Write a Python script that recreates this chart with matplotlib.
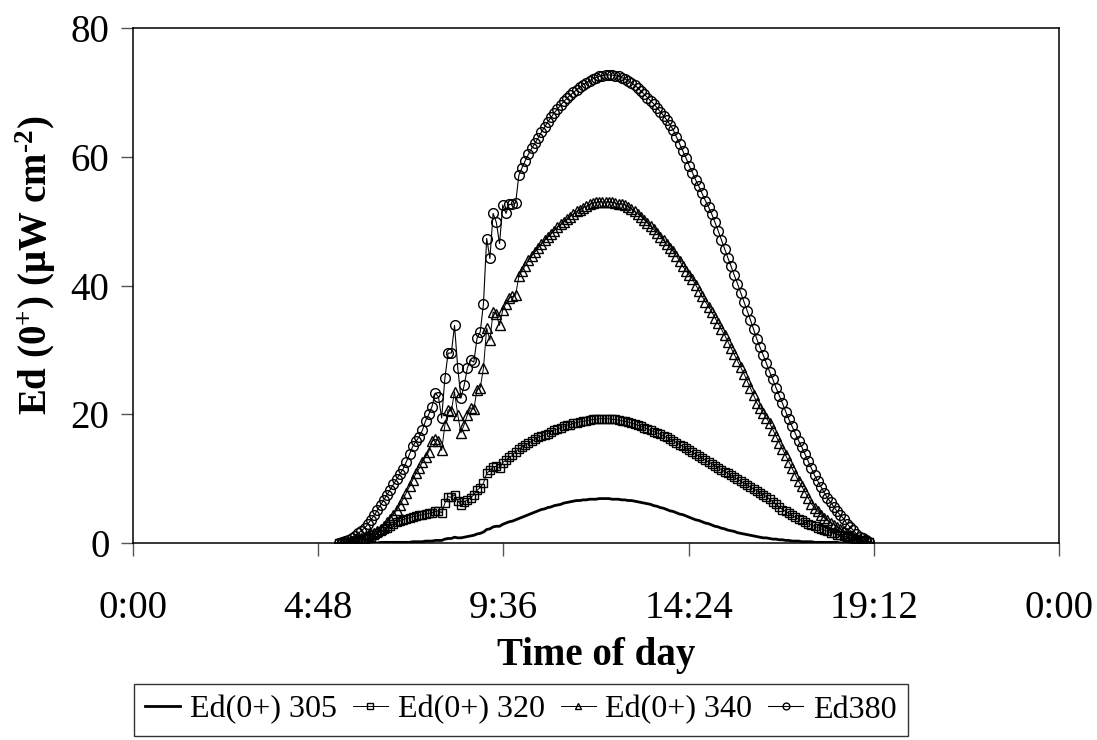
import numpy as np
import matplotlib
matplotlib.use("Agg")
import matplotlib.pyplot as plt

# ---- data (5-minute samples starting at 5:20) ----
start_min = 320
step_min = 5

ed305 = [0.0, 0.0, 0.0, 0.0, 0.0, 0.0, 0.0, 0.0,
         0.0, 0.0, 0.0, 0.0, 0.0, 0.1, 0.1, 0.1, 0.1, 0.1, 0.1, 0.1,
         0.1, 0.1, 0.1, 0.2, 0.2, 0.2, 0.2, 0.3, 0.3, 0.3, 0.4, 0.4,
         0.4, 0.6, 0.7, 0.7, 0.9, 0.8, 0.8, 0.9, 1.0, 1.1, 1.2, 1.4,
         1.5, 1.7, 2.1, 2.2, 2.5, 2.6, 2.6, 2.9, 3.1, 3.3, 3.4, 3.6,
         3.8, 4.0, 4.2, 4.4, 4.6, 4.8, 5.0, 5.2, 5.3, 5.5, 5.6, 5.8,
         5.9, 6.0, 6.2, 6.3, 6.4, 6.5, 6.6, 6.6, 6.7, 6.7, 6.8, 6.8,
         6.8, 6.9, 6.9, 6.9, 6.9, 6.8, 6.8, 6.8, 6.7, 6.7, 6.6, 6.6,
         6.5, 6.4, 6.3, 6.2, 6.1, 6.0, 5.8, 5.7, 5.5, 5.4, 5.2, 5.0,
         4.9, 4.7, 4.5, 4.4, 4.2, 4.0, 3.8, 3.6, 3.5, 3.3, 3.1, 3.0,
         2.8, 2.6, 2.5, 2.3, 2.2, 2.0, 1.9, 1.8, 1.6, 1.5, 1.4, 1.3,
         1.2, 1.1, 1.0, 0.9, 0.8, 0.8, 0.7, 0.6, 0.6, 0.5, 0.5, 0.4,
         0.4, 0.3, 0.3, 0.3, 0.2, 0.2, 0.2, 0.2, 0.1, 0.1, 0.1, 0.1,
         0.1, 0.1, 0.1, 0.1, 0.0, 0.0, 0.0, 0.0, 0.0, 0.0, 0.0, 0.0,
         0.0, 0.0]

ed320 = [0.0, 0.0, 0.1, 0.1, 0.2, 0.3, 0.4, 0.5,
         0.6, 0.8, 1.0, 1.2, 1.5, 1.8, 2.1, 2.4, 2.7, 3.0, 3.2, 3.4,
         3.6, 3.8, 3.9, 4.1, 4.2, 4.3, 4.4, 4.5, 4.6, 4.7, 4.9, 5.0,
         4.7, 6.2, 7.2, 7.1, 7.5, 6.6, 5.9, 6.4, 6.7, 7.0, 7.5, 8.2,
         8.6, 9.3, 10.8, 11.3, 11.8, 11.9, 11.6, 12.5, 12.9, 13.3, 13.6, 14.2,
         14.6, 14.9, 15.2, 15.5, 15.8, 16.1, 16.4, 16.6, 16.8, 17.0, 17.3, 17.5,
         17.7, 17.9, 18.1, 18.3, 18.4, 18.6, 18.7, 18.8, 18.9, 19.0, 19.1, 19.2,
         19.2, 19.3, 19.3, 19.3, 19.3, 19.2, 19.2, 19.1, 19.0, 18.9, 18.8, 18.6,
         18.5, 18.3, 18.1, 17.9, 17.7, 17.5, 17.3, 17.1, 16.9, 16.6, 16.4, 16.1,
         15.9, 15.6, 15.3, 15.0, 14.7, 14.4, 14.1, 13.8, 13.5, 13.2, 12.9, 12.6,
         12.3, 12.0, 11.7, 11.4, 11.1, 10.8, 10.5, 10.2, 9.9, 9.6, 9.3, 9.0,
         8.7, 8.4, 8.1, 7.8, 7.5, 7.2, 6.8, 6.4, 6.0, 5.6, 5.2, 4.9,
         4.6, 4.3, 4.0, 3.7, 3.5, 3.2, 3.0, 2.8, 2.6, 2.4, 2.2, 2.0,
         1.8, 1.6, 1.5, 1.3, 1.2, 1.1, 0.9, 0.8, 0.7, 0.6, 0.5, 0.4,
         0.3, 0.2]

ed340 = [0.0, 0.0, 0.1, 0.2, 0.3, 0.4, 0.6, 0.8,
         1.0, 1.2, 1.4, 1.6, 1.9, 2.2, 2.7, 3.2, 3.8, 4.4, 5.1, 5.9,
         6.8, 7.8, 8.8, 9.8, 10.8, 11.6, 12.6, 13.4, 14.2, 15.8, 16.1, 15.9,
         14.4, 18.3, 20.7, 20.5, 23.5, 19.9, 17.1, 18.4, 19.9, 21.0, 20.8, 23.8,
         24.1, 27.2, 33.4, 31.5, 35.9, 35.5, 33.8, 36.2, 37.2, 38.0, 38.3, 38.5,
         41.4, 42.3, 43.1, 43.9, 44.6, 45.2, 45.8, 46.4, 47.0, 47.5, 48.0, 48.5,
         49.1, 49.5, 49.9, 50.3, 50.7, 51.1, 51.5, 51.8, 52.1, 52.3, 52.6, 52.8,
         52.9, 53.0, 53.0, 53.0, 53.0, 52.9, 52.8, 52.7, 52.7, 52.5, 52.2, 51.9,
         51.5, 51.1, 50.7, 50.2, 49.7, 49.2, 48.7, 48.2, 47.6, 47.0, 46.4, 45.8,
         45.3, 44.6, 43.8, 43.0, 42.3, 41.6, 41.0, 40.1, 39.2, 38.3, 37.5, 36.7,
         35.9, 35.0, 34.1, 33.2, 32.3, 31.3, 30.3, 29.3, 28.3, 27.3, 26.3, 25.2,
         24.1, 23.0, 21.8, 21.0, 20.2, 19.4, 18.6, 17.6, 16.6, 15.6, 14.6, 13.6,
         12.6, 11.6, 10.6, 9.6, 8.8, 7.9, 7.0, 6.1, 5.4, 4.9, 4.4, 3.9,
         3.5, 3.1, 2.8, 2.5, 2.2, 1.9, 1.6, 1.3, 1.0, 0.8, 0.5, 0.3,
         0.2, 0.1]

ed380 = [0.0, 0.1, 0.3, 0.5, 0.8, 1.1, 1.5, 1.9,
         2.3, 2.9, 3.6, 4.3, 5.1, 5.9, 6.7, 7.5, 8.3, 9.1, 9.9, 10.7,
         11.5, 12.6, 13.8, 15.0, 15.8, 16.5, 17.5, 19.0, 20.0, 21.2, 23.3, 22.7,
         19.4, 25.6, 29.5, 29.5, 33.8, 27.2, 22.5, 24.5, 27.2, 28.4, 28.1, 31.8,
         32.8, 37.2, 47.3, 44.2, 51.2, 49.8, 46.5, 52.5, 51.2, 52.6, 52.6, 52.8,
         57.1, 58.3, 59.4, 60.4, 61.3, 62.1, 62.9, 63.8, 64.6, 65.4, 66.1, 66.8,
         67.4, 68.0, 68.6, 69.1, 69.6, 70.0, 70.4, 70.8, 71.2, 71.5, 71.8, 72.1,
         72.3, 72.5, 72.6, 72.7, 72.7, 72.7, 72.6, 72.5, 72.3, 72.1, 71.8, 71.5,
         71.1, 70.7, 70.2, 69.7, 69.2, 68.7, 68.2, 67.6, 67.0, 66.4, 65.7, 65.0,
         64.2, 63.1, 62.0, 60.9, 59.8, 58.6, 57.5, 56.4, 55.4, 54.3, 53.2, 52.2,
         51.1, 49.8, 48.5, 47.1, 45.7, 44.3, 43.0, 41.6, 40.3, 38.9, 37.5, 36.1,
         34.7, 33.2, 31.7, 30.4, 29.2, 27.9, 26.6, 25.4, 24.1, 22.9, 21.7, 20.4,
         19.2, 18.1, 17.0, 15.9, 14.9, 13.8, 12.7, 11.6, 10.5, 9.6, 8.7, 7.8,
         7.0, 6.3, 5.6, 4.9, 4.3, 3.8, 3.0, 2.5, 2.0, 1.4, 1.0, 0.7,
         0.4, 0.2]

series_labels = ["Ed(0+) 305", "Ed(0+) 320", "Ed(0+) 340", "Ed380"]
x_tick_hours = [0, 4.8, 9.6, 14.4, 19.2, 24]
x_tick_labels = ["0:00", "4:48", "9:36", "14:24", "19:12", "0:00"]
y_ticks = [0, 20, 40, 60, 80]

# ---- styling ----
plt.rcParams['font.family'] = ['Liberation Serif', 'DejaVu Serif']
plt.rcParams['mathtext.fontset'] = 'custom'
plt.rcParams['mathtext.rm'] = 'Liberation Serif'
plt.rcParams['mathtext.bf'] = 'Liberation Serif:bold'
plt.rcParams['mathtext.it'] = 'Liberation Serif:italic'

fig = plt.figure(figsize=(10.97, 7.40), dpi=100)
ax = fig.add_axes([133 / 1097, 1 - 543 / 740, (1059 - 133) / 1097, (543 - 28) / 740])

def hours(vals):
    return (start_min + step_min * np.arange(len(vals))) / 60.0

ax.plot(hours(ed305), ed305, color='black', lw=2.0, label=series_labels[0], zorder=3)
ax.plot(hours(ed320), ed320, color='black', lw=0.7, marker='s', ms=6.3,
        mfc='none', mec='black', mew=1.0, label=series_labels[1], zorder=3)
ax.plot(hours(ed340), ed340, color='black', lw=0.7, marker='^', ms=7.0,
        mfc='none', mec='black', mew=1.0, label=series_labels[2], zorder=3)
ax.plot(hours(ed380), ed380, color='black', lw=0.8, marker='o', ms=7.0,
        mfc='none', mec='black', mew=1.0, label=series_labels[3], zorder=3)

ax.set_xlim(0, 24)
ax.set_ylim(0, 80)
ax.set_xticks(x_tick_hours)
ax.set_xticklabels(x_tick_labels)
ax.set_yticks(y_ticks)
ax.tick_params(axis='both', labelsize=28, direction='out', length=9, width=1.0,
               color='#555555')
ax.tick_params(axis='x', pad=25)
ax.tick_params(axis='y', pad=8)
ax.tick_params(top=False, right=False)
for sp in ax.spines.values():
    sp.set_color('black')
    sp.set_linewidth(1.1)

ax.set_xlabel("Time of day", fontsize=28, fontweight='bold')
ax.xaxis.label.set_va('center')
ax.xaxis.set_label_coords(0.5, (543 - 655) / 515)

ax.set_ylabel("Ed (0$^{\\mathbf{+}}$) ($\\mathbf{\\mu}$W cm$^{\\mathbf{\u20102}}$)",
              fontsize=28, fontweight='bold')
ax.yaxis.label.set_va('center')
ax.yaxis.set_label_coords((36 - 133) / 926, (543 - 265) / 515)

leg = fig.legend(loc='upper left', bbox_to_anchor=(134 / 1097, 1 - 684 / 740),
                 ncol=4, fontsize=23, frameon=True, fancybox=False,
                 handlelength=1.1, handletextpad=0.3, columnspacing=0.5,
                 borderpad=0.35, borderaxespad=0.0, markerscale=0.7)
leg.get_frame().set_edgecolor('black')
leg.get_frame().set_linewidth(1.0)

fig.savefig("out.png", dpi=100)
